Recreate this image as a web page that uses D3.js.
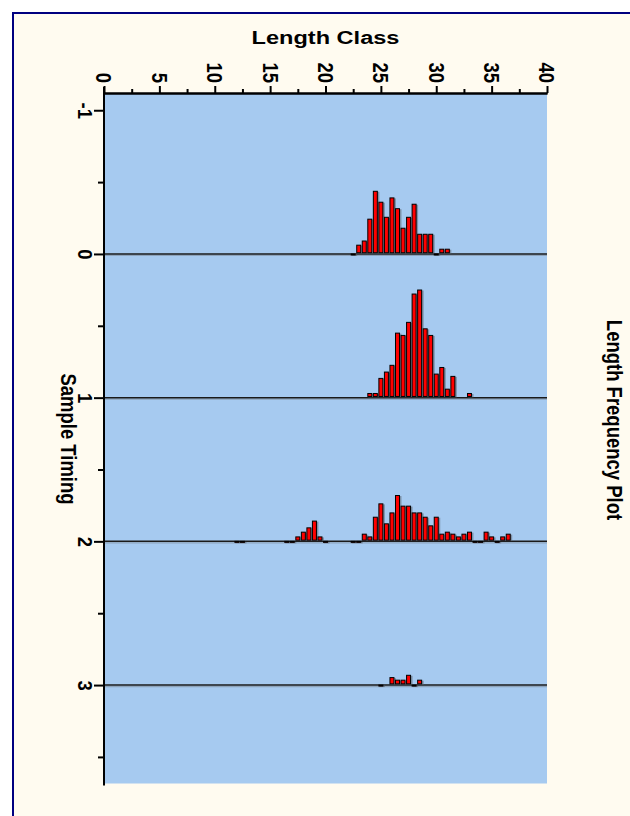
<!DOCTYPE html>
<html>
<head>
<meta charset="utf-8">
<script src="https://cdn.jsdelivr.net/npm/d3@7/dist/d3.min.js"></script>
<style>
  html, body { margin: 0; padding: 0; background: #ffffff; }
  svg { display: block; }
  text { font-family: "Liberation Sans", Arial, sans-serif; font-weight: bold; fill: #000; }
</style>
</head>
<body>
<svg id="chart" width="630" height="816"></svg>
<script>
// Sample timings (baseline of each histogram)
const sampleTimes = [0, 1, 2, 3];

// Length classes and relative frequencies for each sample
const lengths0 = [22.5, 23, 23.5, 24, 24.5, 25, 25.5, 26, 26.5, 27, 27.5, 28, 28.5, 29, 29.5, 30, 30.5, 31];
const freq0    = [0, 0.061, 0.090, 0.242, 0.436, 0.360, 0.255, 0.390, 0.315, 0.179, 0.255, 0.346, 0.137, 0.137, 0.137, 0, 0.033, 0.033];

const lengths1 = [24, 24.5, 25, 25.5, 26, 26.5, 27, 27.5, 28, 28.5, 29, 29.5, 30, 30.5, 31, 31.5, 33];
const freq1    = [0.029, 0.029, 0.134, 0.178, 0.225, 0.449, 0.433, 0.524, 0.721, 0.749, 0.479, 0.433, 0.164, 0.210, 0.059, 0.148, 0.029];

const lengths2 = [12, 12.5, 16.5, 17, 17.5, 18, 18.5, 19, 19.5, 20,
                  22.5, 23, 23.5, 24, 24.5, 25, 25.5, 26, 26.5, 27, 27.5, 28, 28.5, 29, 29.5, 30,
                  30.5, 31, 31.5, 32, 32.5, 33, 33.5, 34, 34.5, 35, 35.5, 36, 36.5];
const freq2    = [0, 0, 0, 0, 0.031, 0.064, 0.094, 0.141, 0.031, 0,
                  0, 0, 0.050, 0.031, 0.168, 0.261, 0.122, 0.198, 0.319, 0.245, 0.245, 0.198, 0.198, 0.168, 0.108, 0.168,
                  0.050, 0.064, 0.050, 0.031, 0.050, 0.064, 0, 0, 0.064, 0.031, 0, 0.031, 0.050];

const lengths3 = [25, 26, 26.5, 27, 27.5, 28, 28.5];
const freq3    = [0, 0.052, 0.034, 0.034, 0.068, 0, 0.034];

// Axis ticks
const lengthTicks = [0, 5, 10, 15, 20, 25, 30, 35, 40];
const lengthMinorTicks = [2.5, 7.5, 12.5, 17.5, 22.5, 27.5, 32.5, 37.5];
const timingTicks = [-1, 0, 1, 2, 3];
const timingMinorTicks = [-0.5, 0.5, 1.5, 2.5, 3.5];

const samples = [
  { t: sampleTimes[0], lengths: lengths0, freq: freq0 },
  { t: sampleTimes[1], lengths: lengths1, freq: freq1 },
  { t: sampleTimes[2], lengths: lengths2, freq: freq2 },
  { t: sampleTimes[3], lengths: lengths3, freq: freq3 }
];

const W = 630, H = 816;
const STRETCH = 1.24;   // titles are drawn a little wide
const svg = d3.select("#chart");

// page frame
svg.append("rect").attr("width", W).attr("height", H).attr("fill", "#ffffff");
svg.append("rect")
  .attr("x", 13).attr("y", 13).attr("width", W + 10).attr("height", H + 10)
  .attr("fill", "#FFFBF0").attr("stroke", "#000080").attr("stroke-width", 2);

// scales: length runs across, sample timing runs down
const x = d3.scaleLinear().domain([0, 40]).range([104, 547]);
const y = d3.scaleLinear().domain([-1.12, 3.685]).range([93, 783.5]);

// plot background
svg.append("rect")
  .attr("x", x.range()[0]).attr("y", y.range()[0])
  .attr("width", x.range()[1] - x.range()[0])
  .attr("height", y.range()[1] - y.range()[0])
  .attr("fill", "#A6CAF0");

// sample baselines
const base = svg.append("g");
base.selectAll("line.shadow").data(sampleTimes).join("line")
  .attr("class", "shadow")
  .attr("x1", x.range()[0]).attr("x2", x.range()[1])
  .attr("y1", d => y(d) + 1.5).attr("y2", d => y(d) + 1.5)
  .attr("stroke", "#7d8a99").attr("stroke-width", 1.2).attr("opacity", 0.6);
base.selectAll("line.main").data(sampleTimes).join("line")
  .attr("class", "main")
  .attr("x1", x.range()[0]).attr("x2", x.range()[1])
  .attr("y1", d => y(d)).attr("y2", d => y(d))
  .attr("stroke", "#1a1a1a").attr("stroke-width", 1.5);

// histogram bars
const barW = x(0.36) - x(0);
const barData = samples.flatMap(s => s.lengths.map((l, i) => ({ len: l, f: s.freq[i], t: s.t })));
const barTop = d => y(d.t - d.f);
const barH = d => Math.max(1, y(d.t) - 1.2 - y(d.t - d.f));

const bars = svg.append("g");
bars.selectAll("rect.shadow").data(barData).join("rect")
  .attr("class", "shadow")
  .attr("x", d => x(d.len) - barW / 2 + 0.5)
  .attr("y", d => barTop(d) + 0.5)
  .attr("width", barW + 1.5)
  .attr("height", d => barH(d) + 0.5)
  .attr("fill", "#5a6470").attr("opacity", 0.55);
bars.selectAll("rect.bar").data(barData).join("rect")
  .attr("class", "bar")
  .attr("x", d => x(d.len) - barW / 2)
  .attr("y", barTop)
  .attr("width", barW)
  .attr("height", barH)
  .attr("fill", "#FF0000").attr("stroke", "#000").attr("stroke-width", 1);

// top axis (Length Class)
const topAxis = svg.append("g").attr("transform", `translate(0,${y.range()[0]})`);
topAxis.call(d3.axisTop(x).tickValues(lengthMinorTicks).tickFormat("").tickSizeInner(4).tickSizeOuter(0));
topAxis.append("g").call(d3.axisTop(x).tickValues(lengthTicks).tickFormat(d => String(d)).tickSizeInner(7).tickSizeOuter(0));
topAxis.selectAll("path.domain").attr("stroke", "#000").attr("stroke-width", 2);
topAxis.selectAll(".tick line").attr("stroke", "#000").attr("stroke-width", 2);
topAxis.selectAll(".tick text")
  .attr("x", null).attr("y", null).attr("dy", "0.35em")
  .attr("text-anchor", "end")
  .attr("transform", `translate(0,-10) scale(${STRETCH},1) rotate(90)`)
  .attr("font-family", null).attr("font-size", null)
  .style("font-size", "18.5px")
  .attr("fill", "#000");

// left axis (Sample Timing)
const leftAxis = svg.append("g").attr("transform", `translate(${x.range()[0]},0)`);
leftAxis.call(d3.axisLeft(y).tickValues(timingMinorTicks).tickFormat("").tickSizeInner(6).tickSizeOuter(0));
leftAxis.append("g").call(d3.axisLeft(y).tickValues(timingTicks).tickFormat(d => String(d)).tickSizeInner(10).tickSizeOuter(0));
leftAxis.selectAll("path.domain").remove();
leftAxis.append("line")
  .attr("x1", 0).attr("x2", 0).attr("y1", y.range()[0] - 6).attr("y2", y.range()[1] + 2)
  .attr("stroke", "#000").attr("stroke-width", 2);
leftAxis.selectAll(".tick line").attr("stroke", "#000").attr("stroke-width", 2);
leftAxis.selectAll(".tick text")
  .attr("x", null).attr("y", null).attr("dy", null)
  .attr("text-anchor", "middle")
  .attr("transform", `translate(-26,0) scale(1.05,1) rotate(90)`)
  .attr("font-family", null).attr("font-size", null)
  .style("font-size", "18.5px")
  .attr("fill", "#000");

// titles
svg.append("text")
  .attr("transform", `translate(${(x.range()[0] + x.range()[1]) / 2},44) scale(${STRETCH},1)`)
  .attr("text-anchor", "middle").style("font-size", "19px")
  .text("Length Class");

svg.append("text")
  .attr("transform", `translate(61,439) scale(${STRETCH},1) rotate(90)`)
  .attr("text-anchor", "middle").style("font-size", "18.5px")
  .text("Sample Timing");

svg.append("text")
  .attr("transform", `translate(607,420) scale(${STRETCH},1) rotate(90)`)
  .attr("text-anchor", "middle").style("font-size", "18.5px")
  .text("Length Frequency Plot");
</script>
</body>
</html>
